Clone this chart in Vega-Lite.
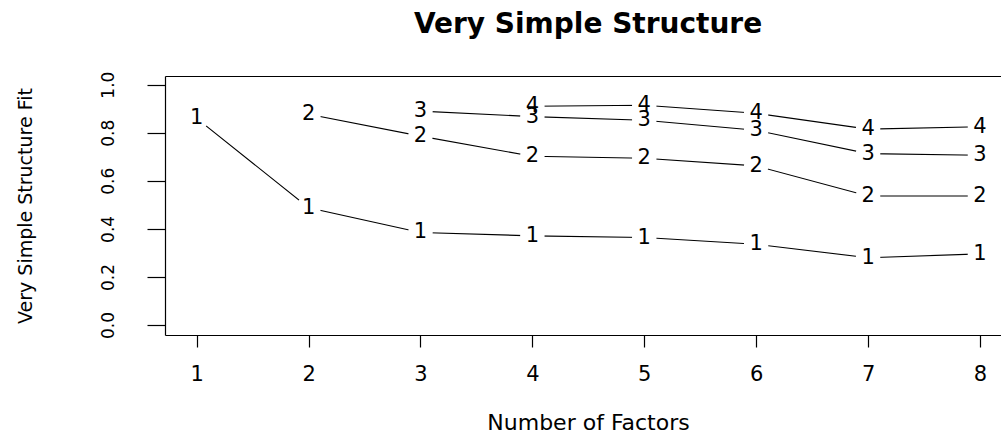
{
  "$schema": "https://vega.github.io/schema/vega-lite/v6.json",
  "width": 836,
  "height": 259,
  "autosize": {"type": "none"},
  "padding": {"left": 165, "top": 76, "right": 0, "bottom": 99},
  "background": "white",
  "config": {
    "view": {"stroke": null},
    "font": "DejaVu Sans",
    "axis": {
      "grid": false,
      "domainColor": "black",
      "tickColor": "black",
      "domainWidth": 1.2,
      "tickWidth": 1.2,
      "labelColor": "black",
      "titleColor": "black",
      "labelFont": "DejaVu Sans",
      "titleFont": "DejaVu Sans",
      "titleFontWeight": "normal"
    }
  },
  "title": {
    "text": "Very Simple Structure",
    "font": "DejaVu Sans",
    "fontSize": 28,
    "fontWeight": "bold",
    "color": "black",
    "anchor": "middle",
    "baseline": "alphabetic",
    "offset": 10,
    "dx": 5
  },
  "data": {
    "values": [
      {"nfactors": 1, "complexity": 1, "fit": 0.86},
      {"nfactors": 2, "complexity": 1, "fit": 0.488},
      {"nfactors": 3, "complexity": 1, "fit": 0.385},
      {"nfactors": 4, "complexity": 1, "fit": 0.371},
      {"nfactors": 5, "complexity": 1, "fit": 0.364},
      {"nfactors": 6, "complexity": 1, "fit": 0.336},
      {"nfactors": 7, "complexity": 1, "fit": 0.28},
      {"nfactors": 8, "complexity": 1, "fit": 0.296},
      {"nfactors": 2, "complexity": 2, "fit": 0.877},
      {"nfactors": 3, "complexity": 2, "fit": 0.786},
      {"nfactors": 4, "complexity": 2, "fit": 0.702},
      {"nfactors": 5, "complexity": 2, "fit": 0.694},
      {"nfactors": 6, "complexity": 2, "fit": 0.662},
      {"nfactors": 7, "complexity": 2, "fit": 0.537},
      {"nfactors": 8, "complexity": 2, "fit": 0.537},
      {"nfactors": 3, "complexity": 3, "fit": 0.89},
      {"nfactors": 4, "complexity": 3, "fit": 0.867},
      {"nfactors": 5, "complexity": 3, "fit": 0.852},
      {"nfactors": 6, "complexity": 3, "fit": 0.81},
      {"nfactors": 7, "complexity": 3, "fit": 0.713},
      {"nfactors": 8, "complexity": 3, "fit": 0.706},
      {"nfactors": 4, "complexity": 4, "fit": 0.91},
      {"nfactors": 5, "complexity": 4, "fit": 0.914},
      {"nfactors": 6, "complexity": 4, "fit": 0.881},
      {"nfactors": 7, "complexity": 4, "fit": 0.815},
      {"nfactors": 8, "complexity": 4, "fit": 0.825}
    ]
  },
  "resolve": {"axis": {"x": "independent"}},
  "layer": [
    {
      "mark": {"type": "line", "color": "black", "strokeWidth": 1.1},
      "encoding": {
        "x": {
          "field": "nfactors", "type": "quantitative",
          "scale": {"domain": [0.717, 8.188], "nice": false, "zero": false},
          "axis": {
            "orient": "bottom",
            "values": [1, 2, 3, 4, 5, 6, 7, 8],
            "format": "d",
            "tickSize": 12,
            "labelPadding": 16,
            "labelFontSize": 21,
            "labelFlush": false,
            "title": "Number of Factors",
            "titleFontSize": 22,
            "titleX": 423,
            "titleY": 94,
            "titleBaseline": "alphabetic",
            "titleAnchor": "middle"
          }
        },
        "y": {
          "field": "fit", "type": "quantitative",
          "scale": {"domain": [-0.0415, 1.036], "nice": false, "zero": false},
          "axis": {
            "values": [0, 0.2, 0.4, 0.6, 0.8, 1.0],
            "format": ".1f",
            "tickSize": 18,
            "labelAngle": -90,
            "labelAlign": "center",
            "labelBaseline": "bottom",
            "labelPadding": 30,
            "labelFontSize": 17,
            "labelFlush": false,
            "title": "Very Simple Structure Fit",
            "titleFontSize": 19,
            "titleX": -140,
            "titleY": 129.5,
            "titleAngle": -90,
            "titleAlign": "center",
            "titleBaseline": "middle"
          }
        },
        "detail": {"field": "complexity", "type": "nominal"}
      }
    },
    {
      "mark": {"type": "point", "filled": true, "color": "white", "opacity": 1, "size": 600, "shape": "circle"},
      "encoding": {
        "x": {"field": "nfactors", "type": "quantitative", "axis": null},
        "y": {"field": "fit", "type": "quantitative"}
      }
    },
    {
      "mark": {"type": "text", "color": "black", "fontSize": 21, "font": "DejaVu Sans", "baseline": "middle", "align": "center"},
      "encoding": {
        "x": {
          "field": "nfactors", "type": "quantitative",
          "axis": {"orient": "top", "labels": false, "ticks": false, "title": null, "domain": true}
        },
        "y": {"field": "fit", "type": "quantitative"},
        "text": {"field": "complexity", "type": "nominal"}
      }
    }
  ]
}
